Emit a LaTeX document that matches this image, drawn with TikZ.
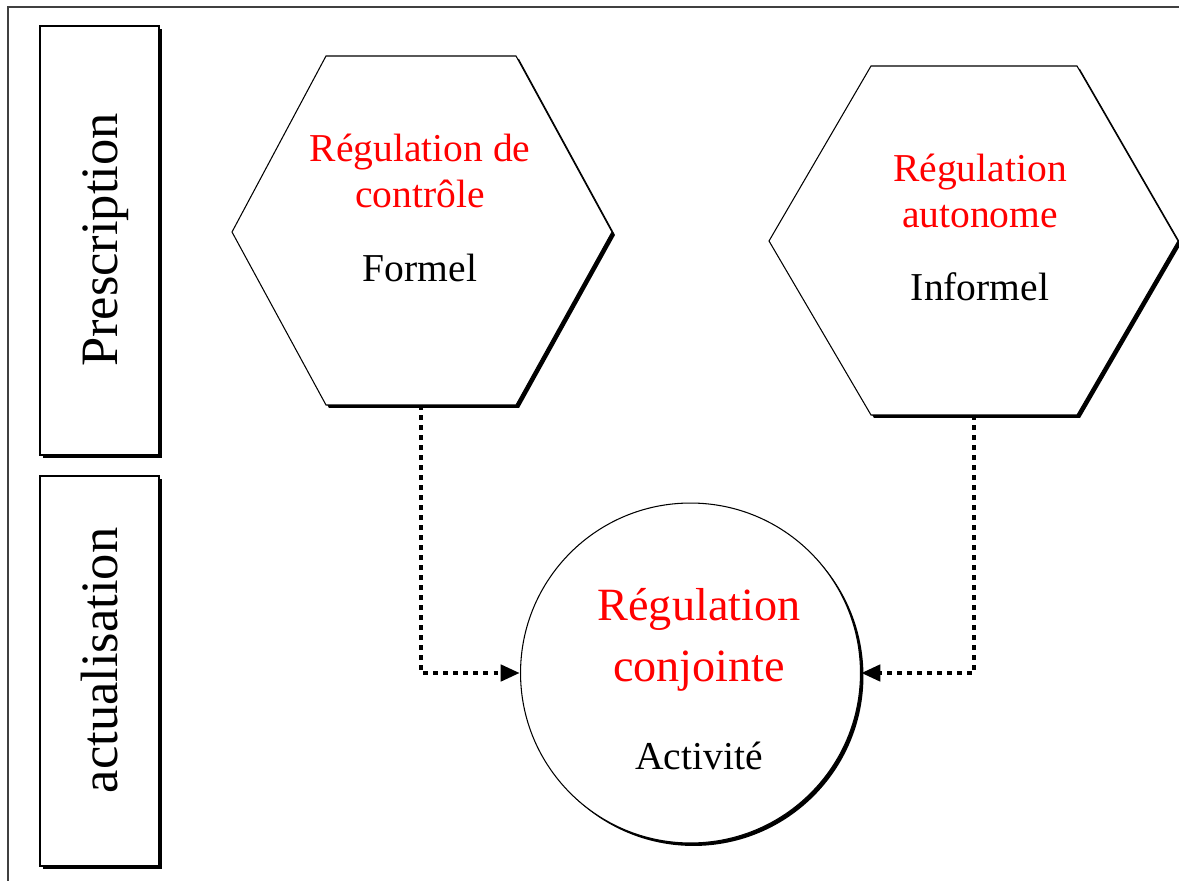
\documentclass[tikz,border=0pt]{standalone}
\usepackage{fontspec}
\setmainfont{Liberation Serif}
\usetikzlibrary{arrows.meta,shadows}

\begin{document}
\begin{tikzpicture}[x=0.02cm, y=-0.02cm,
	shadebox/.style={draw=black, line width=0.6pt, fill=white,
		drop shadow={shadow xshift=1.7pt, shadow yshift=-1.7pt, opacity=1, fill=black}},
	link/.style={line width=2.8pt, dash pattern=on 2.8pt off 2.9pt, -{Triangle[length=11pt, width=9pt]}},
	head/.style={text=red, font=\fontsize{22.5}{26.7}\selectfont, align=center, anchor=base, inner sep=0pt},
	sub/.style={font=\fontsize{22.5}{26.7}\selectfont, anchor=base, inner sep=0pt},
	side/.style={font=\fontsize{29.9}{34}\selectfont, rotate=90, anchor=base, inner sep=0pt}]
			%%%%% START %%%%%
			
			\useasboundingbox (0,0) rectangle (1179,881);
			\draw[line width=0.6pt, black!75] (8,881) -- (8,7) -- (1179,7);
			
			\draw[shadebox] (40,26) rectangle (159,455);
			\node[side] (presc) at (117,240) {Prescription};
			
			\draw[shadebox] (40,476) rectangle (159,866);
			\node[side] (actu) at (117,660.5) {actualisation};
			
			\draw[shadebox] (232,232) -- (326,56) -- (516,56) -- (612,232) -- (516,405) -- (326,405) -- cycle;
			\coordinate (ctrl) at (421,405);
			\node[head] (ctrlT) at (420,208) {Régulation de\\contrôle};
			\node[sub] (ctrlF) at (420,281.7) {Formel};
			
			\draw[shadebox] (769,241) -- (871,66) -- (1077,66) -- (1178,241) -- (1077,415) -- (871,415) -- cycle;
			\coordinate (auto) at (974,415);
			\node[head] (autoT) at (980,228) {Régulation\\autonome};
			\node[sub] (autoF) at (980,300.7) {Informel};
			
			\node[shadebox, circle, minimum size=6.8cm, inner sep=0pt] (conj) at (690.5,673) {};
			\node[head, font=\fontsize{26.3}{34.7}\selectfont] (conjT) at (699,681.7) {Régulation\\conjointe};
			\node[sub] (conjA) at (699,769) {Activité};
			
			\draw[link] (ctrl) |- (conj.west);
			\draw[link] (auto) |- (conj.east);
			
			%%%%% END %%%%%
\end{tikzpicture}
\end{document}
